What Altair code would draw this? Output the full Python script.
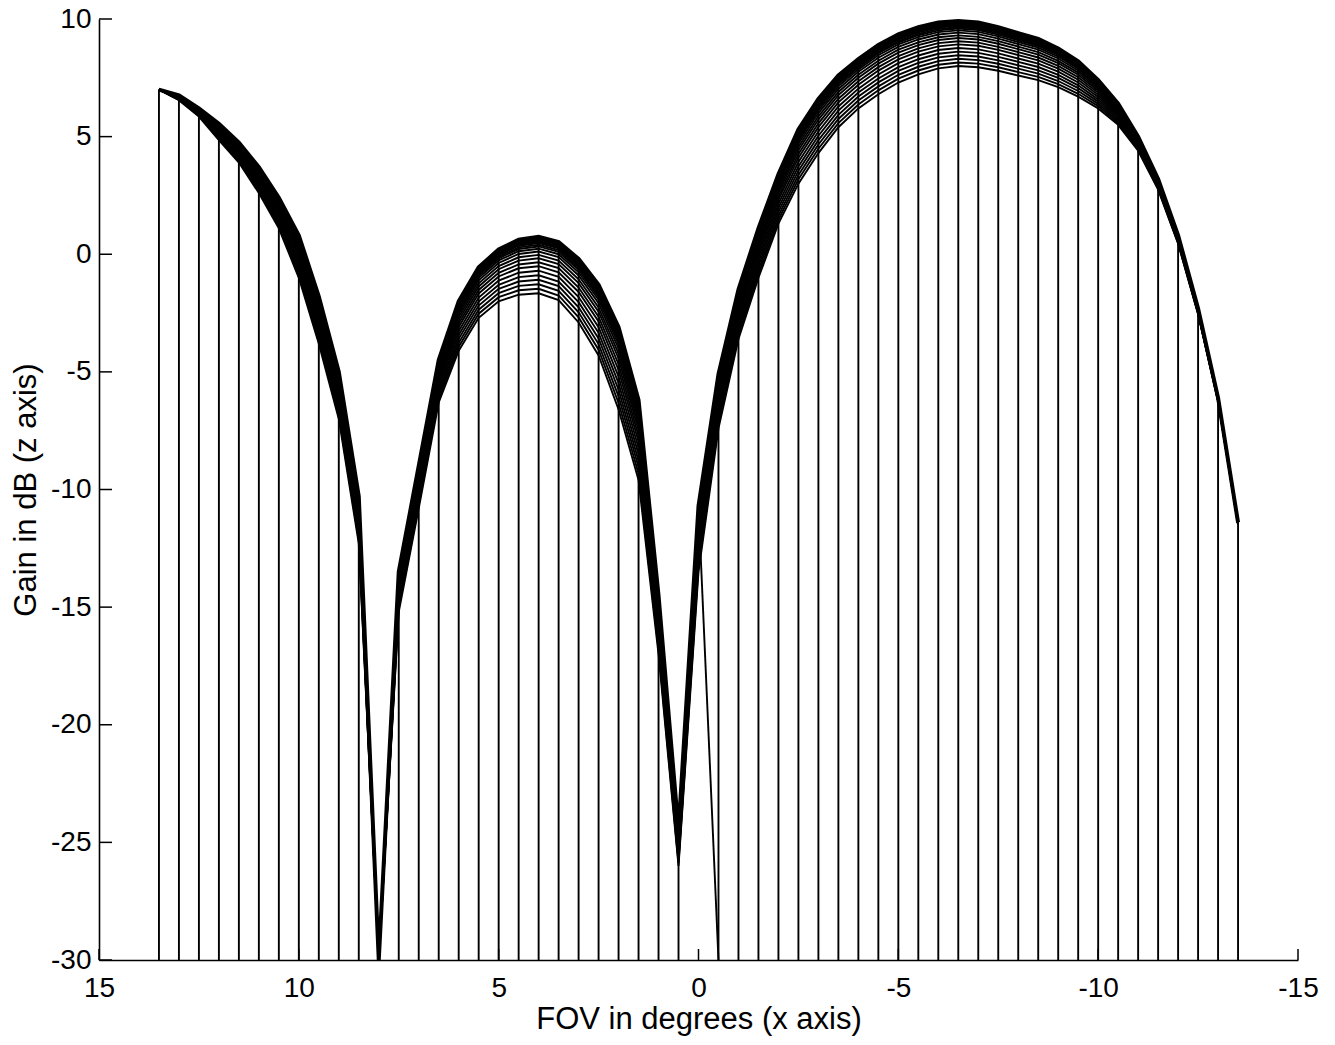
import altair as alt
import pandas as pd

# ---- data ----
GRID_X = [13.5, 13.0, 12.5, 12.0, 11.5, 11.0, 10.5, 10.0, 9.5, 9.0, 8.5, 8.0,
          7.5, 7.0, 6.5, 6.0, 5.5, 5.0, 4.5, 4.0, 3.5, 3.0, 2.5, 2.0, 1.5, 1.0,
          0.5, 0.0, -0.5, -1.0, -1.5, -2.0, -2.5, -3.0, -3.5, -4.0, -4.5, -5.0,
          -5.5, -6.0, -6.5, -7.0, -7.5, -8.0, -8.5, -9.0, -9.5, -10.0, -10.5,
          -11.0, -11.5, -12.0, -12.5, -13.0, -13.5]

# upper envelope of the family of gain curves (dB)
TOP_DB = [7.0, 6.75, 6.2, 5.55, 4.75, 3.7, 2.4, 0.8, -1.8, -5.0, -10.3, -30.0,
          -13.5, -9.0, -4.5, -2.0, -0.55, 0.2, 0.62, 0.74, 0.52, -0.2, -1.3, -3.1,
          -6.2, -14.5, -24.5, -10.7, -5.1, -1.5, 1.1, 3.4, 5.3, 6.6, 7.6, 8.3,
          8.9, 9.35, 9.65, 9.85, 9.92, 9.85, 9.65, 9.4, 9.15, 8.75, 8.2, 7.4,
          6.4, 5.0, 3.2, 0.8, -2.3, -6.1, -11.4]

# lower envelope of the family of gain curves (dB)
BOTTOM_DB = [7.0, 6.55, 5.85, 4.85, 3.9, 2.6, 1.1, -1.0, -3.8, -7.0, -12.3, -30.0,
             -15.2, -10.8, -6.3, -4.1, -2.7, -2.0, -1.72, -1.66, -1.95, -2.9, -4.3, -6.6,
             -9.6, -17.0, -26.0, -13.5, -7.4, -3.6, -1.0, 1.3, 3.0, 4.3, 5.4, 6.2,
             6.8, 7.3, 7.65, 7.9, 8.0, 7.95, 7.8, 7.6, 7.4, 7.1, 6.7, 6.2,
             5.5, 4.4, 2.75, 0.45, -2.55, -6.25, -11.5]

# relative position of each mesh row inside the band (0 = upper, 1 = lower)
ROW_FRACTIONS = [0.0, 0.012, 0.025, 0.04, 0.055, 0.07, 0.09, 0.11, 0.14, 0.17,
                 0.21, 0.26, 0.32, 0.38, 0.45, 0.52, 0.60, 0.68, 0.76, 0.84,
                 0.92, 1.0]

FLOOR_DB = -30
FOOT_SHIFT = {0.0: -0.5}   # the column at 0 deg leans to -0.5 deg at its foot

X_TICKS = [15, 10, 5, 0, -5, -10, -15]
Y_TICKS = [10, 5, 0, -5, -10, -15, -20, -25, -30]

X_TITLE = "FOV in degrees (x axis)"
Y_TITLE = "Gain in dB (z axis)"

# ---- tables ----
rows = []
for r, f in enumerate(ROW_FRACTIONS):
    for x, t, b in zip(GRID_X, TOP_DB, BOTTOM_DB):
        rows.append({"row": r, "x": x, "y": t - f * (t - b)})
rows_df = pd.DataFrame(rows)
top_df = rows_df[rows_df["row"] == 0]
inner_df = rows_df[rows_df["row"] != 0]

cols_df = pd.DataFrame({
    "x": [FOOT_SHIFT.get(x, x) for x in GRID_X],
    "x2": GRID_X,
    "y": [FLOOR_DB] * len(GRID_X),
    "y2": TOP_DB,
})
xt_df = pd.DataFrame({"x": X_TICKS})
yt_df = pd.DataFrame({"y": Y_TICKS})

W, H = 1199, 941
FONT = "Liberation Sans"

xscale = alt.Scale(domain=[-15, 15], reverse=True, nice=False, zero=False)
yscale = alt.Scale(domain=[-30, 10], nice=False, zero=False)

x_axis = alt.Axis(values=X_TICKS, title=X_TITLE, grid=False, ticks=False, tickSize=0,
                  labelFontSize=28, labelFont=FONT, labelColor="black",
                  labelPadding=14, labelFlush=False, labelExpr="'' + datum.value",
                  titleFont=FONT, titleFontSize=31, titleFontWeight="normal",
                  titleColor="black", titlePadding=2,
                  domainColor="black", domainWidth=1.6)
y_axis = alt.Axis(values=Y_TICKS, title=Y_TITLE, grid=False, ticks=False, tickSize=0,
                  labelFontSize=28, labelFont=FONT, labelColor="black",
                  labelPadding=8, labelFlush=False, labelExpr="'' + datum.value",
                  titleFont=FONT, titleFontSize=31, titleFontWeight="normal",
                  titleColor="black", titlePadding=8,
                  domainColor="black", domainWidth=1.6)

X = alt.X("x:Q", scale=xscale, axis=x_axis)
Y = alt.Y("y:Q", scale=yscale, axis=y_axis)

columns = alt.Chart(cols_df).mark_rule(color="black", strokeWidth=1.9).encode(
    x=X, x2="x2:Q", y=Y, y2="y2:Q",
)

inner = alt.Chart(inner_df).mark_line(color="black", strokeWidth=1.9).encode(
    x=X, y=Y, detail="row:N", order="x:Q",
)

top = alt.Chart(top_df).mark_line(color="black", strokeWidth=4.0).encode(
    x=X, y=Y, order="x:Q",
)

xticks = alt.Chart(xt_df).mark_rule(color="black", strokeWidth=1.5).encode(
    x=X, y=alt.value(H), y2=alt.value(H - 11),
)
yticks = alt.Chart(yt_df).mark_rule(color="black", strokeWidth=1.5).encode(
    y=Y, x=alt.value(0), x2=alt.value(13),
)

chart = alt.layer(columns, inner, top, xticks, yticks).properties(
    width=W, height=H,
    padding={"left": 99, "top": 19, "right": 37, "bottom": 85},
    autosize=alt.AutoSizeParams(type="none"),
    background="white",
).configure_view(stroke=None)

chart.save("out.html", embed_options={"renderer": "svg", "actions": False})
